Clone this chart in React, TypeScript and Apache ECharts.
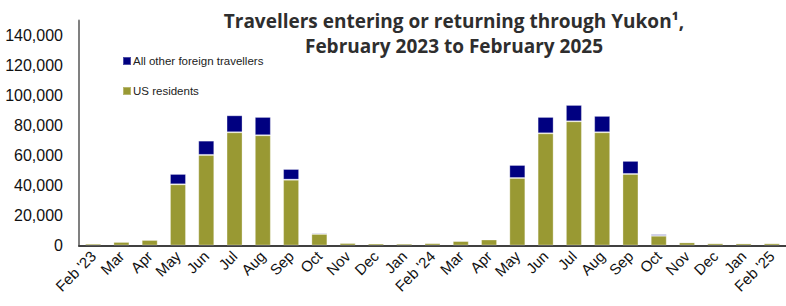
import React, { useEffect, useRef } from "react";
import * as echarts from "echarts";

const categories = [
  "Feb '23", "Mar", "Apr", "May", "Jun", "Jul", "Aug", "Sep", "Oct", "Nov", "Dec", "Jan",
  "Feb '24", "Mar", "Apr", "May", "Jun", "Jul", "Aug", "Sep", "Oct", "Nov", "Dec", "Jan", "Feb '25",
];

const usResidents = [
  1200, 2400, 3700, 40800, 60400, 75500, 73500, 43900, 7700, 1700, 1300, 1200,
  1600, 3000, 4000, 45000, 74800, 82800, 75500, 47700, 6500, 2100, 1500, 1400, 1500,
];

const otherForeign = [
  300, 200, 400, 6900, 9500, 11300, 12200, 7100, 800, 200, 200, 200,
  200, 300, 300, 8700, 10900, 10900, 10900, 8700, 1000, 200, 200, 200, 200,
];

const yTicks = { min: 0, max: 150000, interval: 20000 };

const titleLines = ["Travellers entering or returning through Yukon¹,", "February 2023 to February 2025"];

export default function App() {
  const ref = useRef<HTMLDivElement>(null);
  useEffect(() => {
    if (!ref.current) return;
    const chart = echarts.init(ref.current, undefined, { renderer: "svg" });
    const border = { borderColor: "rgba(255,255,255,0.3)", borderWidth: 1 };
    chart.setOption({
      animation: false,
      backgroundColor: "#ffffff",
      title: {
        text: titleLines.join("\n"),
        left: 449,
        textAlign: "center",
        top: 3,
        textStyle: {
          fontFamily: "Open Sans",
          fontWeight: "bold",
          fontSize: 19,
          lineHeight: 25,
          color: "#2e2e2e",
        },
      },
      legend: {
        orient: "vertical",
        left: 117,
        top: 50,
        itemWidth: 8,
        itemHeight: 8,
        itemGap: 18,
        icon: "rect",
        data: ["All other foreign travellers", "US residents"],
        textStyle: { fontFamily: "Liberation Sans, Arial", fontSize: 11.5, color: "#222", padding: [0, 0, 0, -3] },
      },
      grid: { left: 79, right: -7, top: 20.5, bottom: 60.5, containLabel: false },
      xAxis: {
        type: "category",
        data: categories,
        axisLine: { lineStyle: { color: "#404040", width: 2 } },
        axisTick: { show: false },
        axisLabel: {
          rotate: 45,
          interval: 0,
          margin: 8,
          fontFamily: "Liberation Sans, Arial",
          fontSize: 15,
          color: "#111",
        },
      },
      yAxis: {
        type: "value",
        min: yTicks.min,
        max: yTicks.max,
        interval: yTicks.interval,
        splitLine: { show: false },
        axisLine: { show: true, lineStyle: { color: "#808080", width: 2 } },
        axisTick: { show: false },
        axisLabel: {
          showMaxLabel: false,
          margin: 16,
          fontFamily: "Liberation Sans, Arial",
          fontSize: 16,
          color: "#111",
          formatter: (v: number) => v.toLocaleString("en-US"),
        },
      },
      series: [
        {
          name: "US residents",
          type: "bar",
          stack: "total",
          barWidth: 16,
          data: usResidents,
          itemStyle: { color: "#999933", ...border },
        },
        {
          name: "All other foreign travellers",
          type: "bar",
          stack: "total",
          barWidth: 16,
          data: otherForeign,
          itemStyle: { color: "#000080", ...border },
        },
      ],
    });
    return () => chart.dispose();
  }, []);
  return <div ref={ref} style={{ width: 786, height: 306, position: "absolute", left: 0, top: 0 }} />;
}
